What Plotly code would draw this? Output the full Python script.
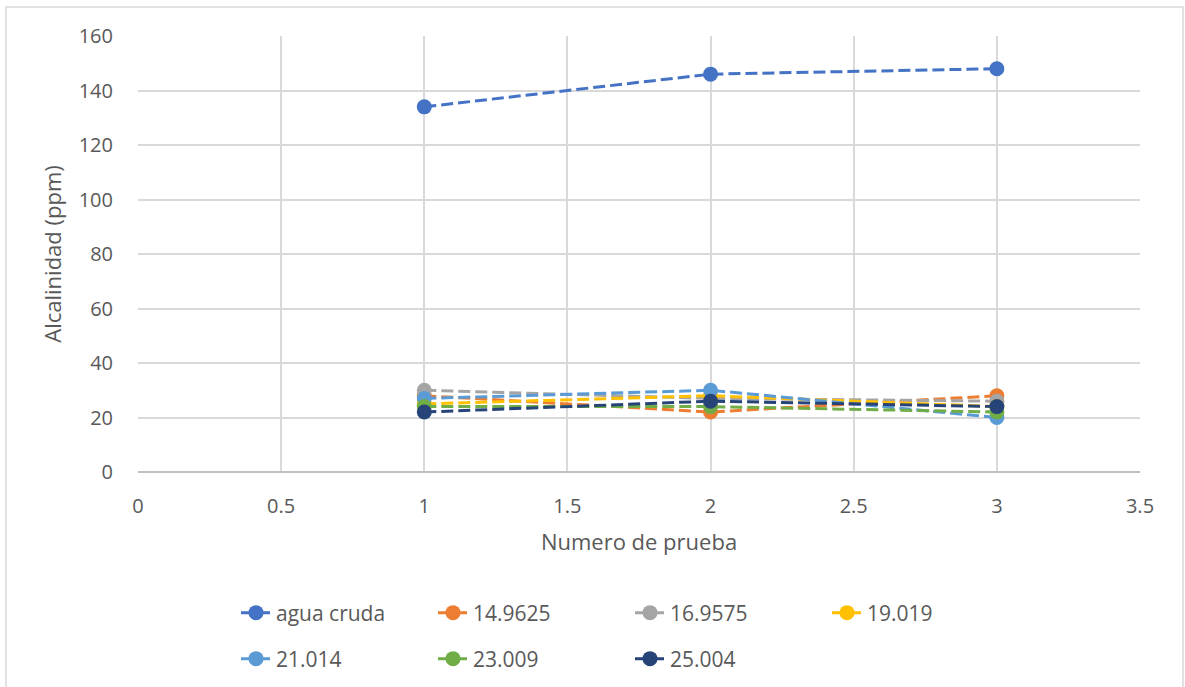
import plotly.graph_objects as go

# Numero de prueba
pruebas = [1, 2, 3]

# Alcalinidad (ppm) por serie
series = ["agua cruda", "14.9625", "16.9575", "19.019", "21.014", "23.009", "25.004"]
agua_cruda = [134, 146, 148]
s_14_9625 = [28, 22, 28]
s_16_9575 = [30, 27, 26]
s_19_019 = [25, 28, 24]
s_21_014 = [27, 30, 20]
s_23_009 = [24, 24, 22]
s_25_004 = [22, 26, 24]
valores = [agua_cruda, s_14_9625, s_16_9575, s_19_019, s_21_014, s_23_009, s_25_004]

colores = ["#4472C4", "#ED7D31", "#A5A5A5", "#FFC000", "#5B9BD5", "#70AD47", "#264478"]

font = "'Open Sans', sans-serif"
gris = "#595959"

fig = go.Figure()
for i, (nombre, y) in enumerate(zip(series, valores)):
    fig.add_trace(go.Scatter(
        x=pruebas, y=y, name=nombre, mode="lines+markers",
        line=dict(color=colores[i], width=3, dash="12px,5px"),
        marker=dict(color=colores[i], size=15),
        legend="legend" if i < 4 else "legend2",
    ))

L, R, T, B = 138, 45, 36, 215
W, H = 1185, 687
pw, ph = W - L - R, H - T - B

def px(x):
    return (x - L) / pw

def py(y):
    return (H - B - y) / ph

leg = dict(orientation="h", xanchor="left", yanchor="middle",
           font=dict(family=font, size=21, color=gris),
           entrywidth=152, entrywidthmode="pixels", bgcolor="rgba(0,0,0,0)",
           itemclick=False)

fig.update_layout(
    width=W, height=H,
    margin=dict(l=L, r=R, t=T, b=B, autoexpand=False),
    plot_bgcolor="white", paper_bgcolor="white",
    font=dict(family=font, color=gris),
    showlegend=True,
    legend=dict(leg, x=px(236), y=py(613)),
    legend2=dict(leg, x=px(236), y=py(659)),
    xaxis=dict(
        range=[0, 3.5], dtick=0.5, tick0=0,
        tickfont=dict(size=20, color=gris),
        ticks="outside", ticklen=16, tickcolor="rgba(0,0,0,0)",
        title=dict(text="Numero de prueba", font=dict(size=22, color=gris), standoff=16),
        showgrid=True, gridcolor="#D9D9D9", gridwidth=2,
        zeroline=False, showline=False,
    ),
    yaxis=dict(
        range=[0, 160], dtick=20, tick0=0,
        tickfont=dict(size=20, color=gris),
        ticks="outside", ticklen=20, tickcolor="rgba(0,0,0,0)",
        title=dict(text="Alcalinidad (ppm)", font=dict(size=22, color=gris), standoff=10),
        showgrid=True, gridcolor="#D9D9D9", gridwidth=2,
        zeroline=True, zerolinecolor="#BFBFBF", zerolinewidth=2,
        showline=False,
    ),
    shapes=[dict(type="rect", xref="paper", yref="paper",
                 x0=px(6), x1=px(1183), y0=py(720), y1=py(7),
                 line=dict(color="#D9D9D9", width=1.5), layer="below")],
)

# sin margen en la pagina para que la figura empiece en 0,0
fig.write_html("out.html", config={"displayModeBar": False},
               post_script="document.body.style.margin='0';")
